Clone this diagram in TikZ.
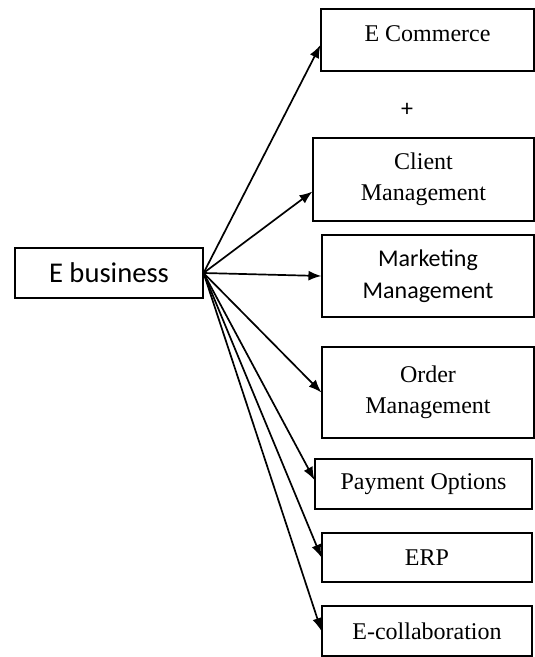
\documentclass[tikz,border=0pt]{standalone}
\usepackage{fontspec}
\setmainfont{Liberation Serif}
\newfontfamily\calibri{Carlito}
\usetikzlibrary{arrows.meta}

\begin{document}
\begin{tikzpicture}[x=1pt, y=-1pt,
  box/.style={draw, line width=1.1pt, inner sep=0pt, align=center,
    font=\fontsize{24}{31}\selectfont},
  link/.style={-{Latex[length=13pt,width=10pt]}, line width=1.7pt}]
\useasboundingbox (0,0) rectangle (535,657);

% Nodes
\node[box, minimum width=188pt, minimum height=50pt, font=\calibri\fontsize{28.6}{34}\selectfont] (ebiz) at (109,273) {E business};
\node[box, minimum width=213pt, minimum height=62pt, text depth=12pt] (ecom) at (427.5,40) {E Commerce};
\node[font=\calibri\fontsize{24}{28}\selectfont] (plus) at (407,110) {+};
\node[box, minimum width=221pt, minimum height=83pt] (client) at (423.5,179.5) {Client\\Management};
\node[box, minimum width=212pt, minimum height=82pt, font=\calibri\fontsize{24}{32}\selectfont] (mkt) at (428,276) {Marketing\\Management};
\node[box, minimum width=212pt, minimum height=91pt] (order) at (428,392.5) {Order\\Management};
\node[box, minimum width=217pt, minimum height=50pt] (pay) at (423.5,484) {Payment Options};
\node[box, minimum width=210pt, minimum height=49pt] (erp) at (427,557.5) {ERP};
\node[box, minimum width=210pt, minimum height=50pt] (ecollab) at (427,631) {E-collaboration};

% Edges
\draw[link] (ebiz.east) -- ([yshift=-5pt]ecom.west);
\draw[link] (ebiz.east) -- ([yshift=-12pt]client.west);
\draw[link] (ebiz.east) -- (mkt.west);
\draw[link] (ebiz.east) -- (order.west);
\draw[link] (ebiz.east) -- ([yshift=4pt]pay.west);
\draw[link] (ebiz.east) -- (erp.west);
\draw[link] (ebiz.east) -- (ecollab.west);

\end{tikzpicture}
\end{document}
